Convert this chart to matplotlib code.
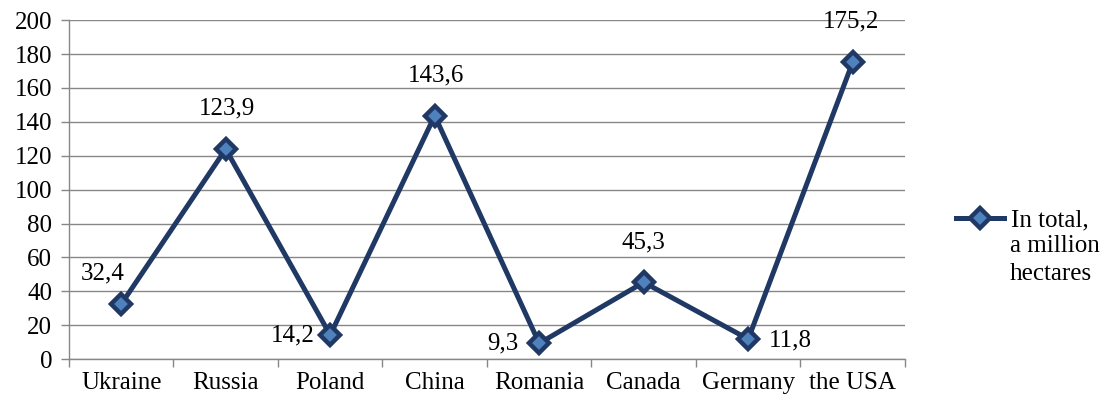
import matplotlib
matplotlib.use('Agg')
import matplotlib.pyplot as plt

countries = ['Ukraine', 'Russia', 'Poland', 'China', 'Romania', 'Canada', 'Germany', 'the USA']
area = [32.4, 123.9, 14.2, 143.6, 9.3, 45.3, 11.8, 175.2]
labels = ['32,4', '123,9', '14,2', '143,6', '9,3', '45,3', '11,8', '175,2']
y_ticks = list(range(0, 201, 20))
legend_lines = ['In total,', 'a million', 'hectares']

# label offsets (points) and alignment per point
offsets = [(-13, 22, 'center'), (1, 29, 'center'), (-11, 0, 'right'), (1, 29, 'center'),
           (-15, 0, 'right'), (0, 29, 'center'), (15, -1, 'left'), (-1, 29, 'center')]


def main():
    plt.rcParams['font.family'] = ['Liberation Serif', 'DejaVu Serif']
    fs = 18
    W, H = 1100, 403
    fig = plt.figure(figsize=(W / 100, H / 100), dpi=100)
    ax = fig.add_axes([0.0627, 0.109, 0.76, 0.841])

    x = list(range(len(countries)))
    line, = ax.plot(x, area, color='#1f3864', lw=3.6, marker='D', ms=10,
                    mfc='#4f81bd', mec='#1f3864', mew=3.2,
                    label=legend_lines[0])

    for xi, yi, txt, (dx, dy, ha) in zip(x, area, labels, offsets):
        ax.annotate(txt, (xi, yi), xytext=(dx, dy), textcoords='offset points',
                    ha=ha, va='center', fontsize=fs)

    ax.set_xlim(-0.5, len(countries) - 0.5)
    ax.set_ylim(0, 200)
    ax.set_yticks(y_ticks)
    ax.set_xticks(x)
    ax.set_xticklabels(countries, fontsize=fs)
    ax.set_xticks([i - 0.5 for i in range(len(countries) + 1)], minor=True)
    ax.tick_params(axis='x', which='major', length=0, pad=9)
    ax.tick_params(axis='x', which='minor', length=6, color='#878787', width=1)
    ax.tick_params(axis='y', labelsize=fs, length=6, color='#878787', width=1, pad=6)

    ax.grid(axis='y', color='#878787', lw=1)
    ax.set_axisbelow(True)
    for s in ['top', 'right']:
        ax.spines[s].set_visible(False)
    for s in ['left', 'bottom']:
        ax.spines[s].set_color('#878787')
        ax.spines[s].set_linewidth(1)

    # legend: handle next to first line, remaining lines below it
    fig.legend(handles=[line], loc='center left', bbox_to_anchor=(956 / W, 1 - 220 / H),
               frameon=False, fontsize=fs, handlelength=1.9, handletextpad=0.3,
               borderaxespad=0, borderpad=0)
    fig.text(1010 / W, 1 - 252 / H, legend_lines[1], fontsize=fs, va='baseline')
    fig.text(1010 / W, 1 - 280 / H, legend_lines[2], fontsize=fs, va='baseline')
    fig.savefig('out.png', dpi=100)


if __name__ == '__main__':
    main()
